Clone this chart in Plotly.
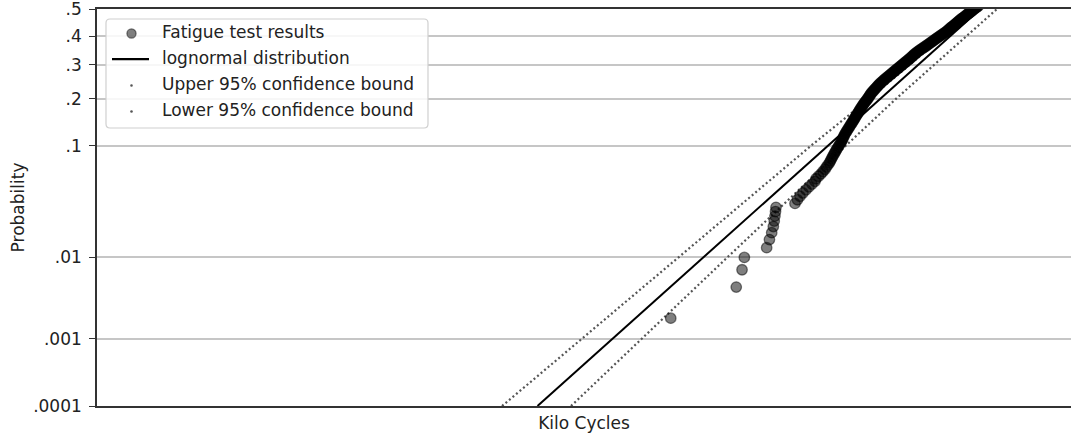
from statistics import NormalDist
import plotly.graph_objects as go

# ---- data -------------------------------------------------------------
N_SPECIMENS = 370  # specimens on test; the ordered lives below are the lowest ones

# ordered fatigue lives (kilo cycles)
fatigue_kc = [
    585, 931, 970, 986, 1155, 1178, 1197, 1211, 1219, 1225, 1230, 1234,
    1412, 1437, 1463, 1494, 1527, 1559, 1593, 1627, 1639, 1668, 1698, 1722,
    1747, 1765, 1784, 1803, 1816, 1829, 1842, 1855, 1868, 1882, 1895, 1909,
    1922, 1936, 1950,
    1964, 1974, 1983, 1993, 2002, 2012, 2024, 2037, 2049, 2062,
    2074, 2086, 2098, 2111, 2123, 2135, 2146, 2157, 2169, 2180,
    2191, 2202, 2213, 2224, 2235, 2246, 2258, 2269, 2281, 2292,
    2304, 2317, 2330, 2344, 2357, 2370, 2381, 2392, 2403, 2414,
    2425, 2440, 2455, 2471, 2486, 2501, 2516, 2531, 2547, 2562,
    2577, 2596, 2615, 2634, 2653, 2672, 2692, 2713, 2733, 2754,
    2774, 2795, 2816, 2836, 2857, 2878, 2899, 2921, 2942, 2964,
    2985, 3006, 3028, 3049, 3071, 3092, 3114, 3136, 3158, 3180,
    3202, 3222, 3242, 3261, 3281, 3301, 3325, 3349, 3372, 3396,
    3420, 3449, 3478, 3508, 3537, 3566, 3594, 3622, 3649, 3677,
    3705, 3732, 3760, 3787, 3815, 3842, 3872, 3902, 3932, 3962,
    3992, 4023, 4054, 4086, 4117, 4148, 4173, 4198, 4223, 4248,
    4273, 4300, 4327, 4354, 4381, 4408, 4435, 4463, 4490, 4518,
    4545, 4575, 4605, 4636, 4666, 4696, 4728, 4760, 4791, 4823,
    4855, 4888, 4921, 4953, 4986, 5019, 5053, 5087, 5121, 5155, 5189,
]

prob_ticks = [0.0001, 0.001, 0.01, 0.1, 0.2, 0.3, 0.4, 0.5]
prob_tick_text = [".0001", ".001", ".01", ".1", ".2", ".3", ".4", ".5"]

# fitted lognormal line (straight on this paper)
fit_prob = [0.0001, 0.5]
fit_kc = [227.4, 5262]

# 95% confidence bounds on life
bound_prob = [0.0001, 0.001, 0.01, 0.1, 0.2, 0.3, 0.4, 0.5]
upper_kc = [176.8, 310.9, 616.8, 1581, 2389, 3170, 4034, 5096]
lower_kc = [288.4, 475.1, 874.3, 2023, 2890, 3784, 4765, 5916]

legend_labels = [
    "Fatigue test results",
    "lognormal distribution",
    "Upper 95% confidence bound",
    "Lower 95% confidence bound",
]

# ---- helpers ----------------------------------------------------------
_nd = NormalDist()


def probit(p):
    return _nd.inv_cdf(p)


# Bernard median-rank plotting positions
median_rank = [(i - 0.3) / (N_SPECIMENS + 0.4) for i in range(1, len(fatigue_kc) + 1)]

W, H = 1071, 434
ML, MR, MT, MB = 97, 0, 9, 28
PW, PH = W - ML - MR, H - MT - MB


def px(x):  # page pixel -> paper x
    return (x - ML) / PW


def py(y):  # page pixel -> paper y
    return (H - MB - y) / PH


FONT = "DejaVu Sans"
TXT = "#222222"
SPINE = "#333333"

fig = go.Figure()

fig.add_trace(go.Scatter(
    x=upper_kc, y=[probit(p) for p in bound_prob], mode="lines",
    line=dict(color="#555555", width=2.2, dash="2px,2.6px"),
    name=legend_labels[2], hoverinfo="skip"))
fig.add_trace(go.Scatter(
    x=lower_kc, y=[probit(p) for p in bound_prob], mode="lines",
    line=dict(color="#555555", width=2.2, dash="2px,2.6px"),
    name=legend_labels[3], hoverinfo="skip"))
fig.add_trace(go.Scatter(
    x=fit_kc, y=[probit(p) for p in fit_prob], mode="lines",
    line=dict(color="black", width=2), name=legend_labels[1]))
fig.add_trace(go.Scatter(
    x=fatigue_kc, y=[probit(p) for p in median_rank], mode="markers",
    marker=dict(size=10.5, color="rgba(0,0,0,0.5)",
                line=dict(color="rgba(0,0,0,0.5)", width=1.3)),
    name=legend_labels[0], cliponaxis=True))

# ---- legend box (drawn by hand) ---------------------------------------
lx0, lx1, ly0, ly1, r = 106, 428, 19, 128, 4
path = (
    f"M {px(lx0 + r)},{py(ly0)} L {px(lx1 - r)},{py(ly0)} "
    f"Q {px(lx1)},{py(ly0)} {px(lx1)},{py(ly0 + r)} "
    f"L {px(lx1)},{py(ly1 - r)} Q {px(lx1)},{py(ly1)} {px(lx1 - r)},{py(ly1)} "
    f"L {px(lx0 + r)},{py(ly1)} Q {px(lx0)},{py(ly1)} {px(lx0)},{py(ly1 - r)} "
    f"L {px(lx0)},{py(ly0 + r)} Q {px(lx0)},{py(ly0)} {px(lx0 + r)},{py(ly0)} Z"
)
shapes = [dict(type="path", xref="paper", yref="paper", path=path,
               fillcolor="rgba(255,255,255,0.85)",
               line=dict(color="#d0d0d0", width=1.2), layer="above")]

rows = [32, 58, 84, 110]
sym_x = 131.5
# marker sample
mr = 4.6
shapes.append(dict(type="circle", xref="paper", yref="paper",
                   x0=px(sym_x - mr), x1=px(sym_x + mr),
                   y0=py(rows[0] + 1.5 - mr), y1=py(rows[0] + 1.5 + mr),
                   fillcolor="rgba(0,0,0,0.5)",
                   line=dict(color="rgba(0,0,0,0.5)", width=1.2), layer="above"))
# line sample
shapes.append(dict(type="line", xref="paper", yref="paper",
                   x0=px(112), x1=px(149), y0=py(rows[1] + 1.2), y1=py(rows[1] + 1.2),
                   line=dict(color="black", width=2.2), layer="above"))
# dotted-bound samples
dr = 1.3
for yy in rows[2:]:
    shapes.append(dict(type="circle", xref="paper", yref="paper",
                       x0=px(sym_x - dr), x1=px(sym_x + dr),
                       y0=py(yy + 1.5 - dr), y1=py(yy + 1.5 + dr),
                       fillcolor="#555555", line=dict(width=0), layer="above"))

annotations = [
    dict(xref="paper", yref="paper", x=px(160), y=py(yy), text=label,
         xanchor="left", yanchor="middle", showarrow=False,
         font=dict(family=FONT, size=17, color=TXT))
    for yy, label in zip(rows, legend_labels)
]

fig.update_layout(
    width=W, height=H,
    margin=dict(l=ML, r=MR, t=MT, b=MB, pad=0),
    paper_bgcolor="white", plot_bgcolor="white",
    showlegend=False,
    font=dict(family=FONT, size=17, color=TXT),
    shapes=shapes, annotations=annotations,
    xaxis=dict(
        type="log", range=[1, 4],
        showgrid=False, zeroline=False,
        showticklabels=False, ticks="",
        showline=True, linecolor=SPINE, linewidth=1.6, mirror=True,
        title=dict(text="Kilo Cycles", standoff=10,
                   font=dict(family=FONT, size=17, color=TXT)),
    ),
    yaxis=dict(
        range=[probit(prob_ticks[0]), probit(prob_ticks[-1])],
        tickmode="array",
        tickvals=[probit(p) for p in prob_ticks],
        ticktext=prob_tick_text,
        showgrid=True, gridcolor="#c6c6c6", gridwidth=1.6,
        zeroline=False,
        showline=True, linecolor=SPINE, linewidth=1.6, mirror=False,
        ticks="outside", ticklen=6, tickwidth=1.4, tickcolor=SPINE,
        ticklabelstandoff=4, ticklabeloverflow="allow",
        tickfont=dict(family=FONT, size=17, color=TXT),
        title=dict(text="Probability", standoff=4,
                   font=dict(family=FONT, size=17, color=TXT)),
    ),
)

fig.write_html("out.html", config={"displayModeBar": False})
